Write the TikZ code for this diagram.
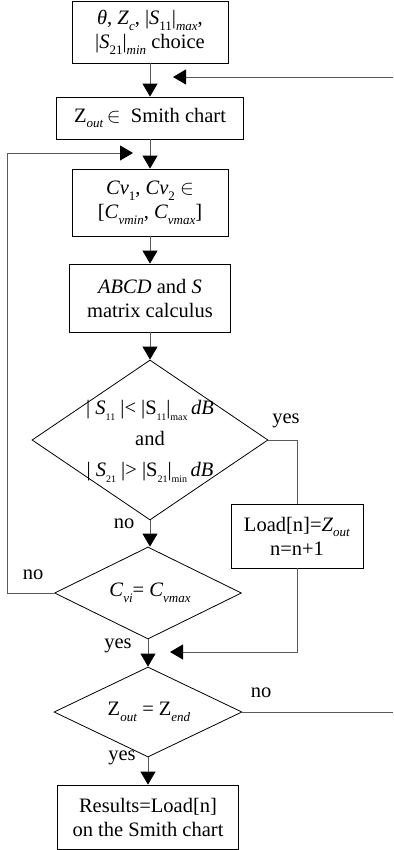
\documentclass[tikz,border=0pt]{standalone}
\usepackage{fontspec}
\setmainfont{Liberation Serif}
\usetikzlibrary{arrows.meta,shapes.geometric}
\newcommand{\lsub}[1]{\raisebox{-0.28em}{\fontsize{13}{13}\selectfont #1}}
\newcommand{\tsub}[1]{\raisebox{-0.3em}{\fontsize{10}{10}\selectfont #1}}
\begin{document}
\begin{tikzpicture}[x=1pt,y=-1pt,
  every node/.style={font=\fontsize{20.5}{24}\selectfont},
  boxnode/.style={draw=black,line width=0.8pt,inner sep=0pt,align=center},
  dnode/.style={draw=black,line width=0.8pt,diamond,inner sep=0pt},
  lbl/.style={inner sep=0pt},
  conn/.style={draw=black!65,line width=0.9pt},
  arr/.style={conn,-{Triangle[width=15pt,length=13pt,black]}}]
\useasboundingbox (0,0) rectangle (393,850);
% boxes
\node[boxnode,minimum width=156,minimum height=62] (b1) at (150,32)
  {\textit{θ}, \textit{Z}\lsub{\textit{c}}, |\textit{S}\lsub{11}|\lsub{\textit{max}},\\
   |\textit{S}\lsub{21}|\lsub{\textit{min}} choice};
\node[boxnode,minimum width=187,minimum height=42] (b2) at (150,118)
  {Z\lsub{\textit{out}}\,$\in$\ \ Smith chart};
\node[boxnode,minimum width=156,minimum height=67] (b3) at (150,202.5)
  {\textit{Cv}\lsub{1}, \textit{Cv}\lsub{2} $\in$\\{}[\textit{C}\lsub{\textit{vmin}}, \textit{C}\lsub{\textit{vmax}}]};
\node[boxnode,minimum width=161,minimum height=68] (b4) at (150,298)
  {\textit{ABCD} and \textit{S}\\ matrix calculus};
\node[dnode,minimum width=236,minimum height=160] (d1) at (150,440) {};
\node[lbl,align=center,font=\fontsize{20.5}{31}\selectfont] (t1) at (150,441)
  {| \textit{S}\tsub{11} |< |S\tsub{11}|\tsub{max}\,\textit{dB}\\ and\\
   | \textit{S}\tsub{21} |> |S\tsub{21}|\tsub{min}\,\textit{dB}};
\node[boxnode,minimum width=132,minimum height=64] (ld) at (297,536)
  {Load[n]=\textit{Z}\lsub{\textit{out}}\\ n=n+1};
\node[dnode,minimum width=187,minimum height=92] (d2) at (148,593) {};
\node[lbl] (t2) at (150,593) {\textit{C}\lsub{\textit{vi}}= \textit{C}\lsub{\textit{vmax}}};
\node[dnode,minimum width=188,minimum height=90] (d3) at (148,712) {};
\node[lbl] (t3) at (149,712) {Z\lsub{\textit{out}} = Z\lsub{\textit{end}}};
\node[boxnode,minimum width=181,minimum height=64] (res) at (148,817)
  {Results=Load[n]\\ on the Smith chart};
% labels
\node[lbl] (y1) at (286,421) {yes};
\node[lbl] (n1) at (124,524) {no};
\node[lbl] (n2) at (33,575) {no};
\node[lbl] (y2) at (118,646) {yes};
\node[lbl] (n3) at (261,693) {no};
\node[lbl] (y3) at (122,758) {yes};
% free-end coordinates
\coordinate (inR) at (393,77);
\coordinate (inT) at (173,77);
\coordinate (lpA) at (7,593);
\coordinate (lpB) at (7,153);
\coordinate (lpT) at (133,153);
\coordinate (ldB) at (298,652);
\coordinate (ldT) at (170,652);
\coordinate (outR) at (393,712);
% connectors
\draw[arr] (b1.south) -- (b2.north);
\draw[arr] (inR) -- (inT);
\draw[arr] (b2.south) -- (b3.north);
\draw[arr] (d2.west) -- (lpA) -- (lpB) -- (lpT);
\draw[arr] (b3.south) -- (b4.north);
\draw[arr] (b4.south) -- (d1.north);
\draw[arr] (d1.south) -- (d1.south |- d2.north);
\draw[conn] (d1.east) -| (ld.north);
\draw[arr] (ld.south) |- (ldT);
\draw[arr] (d2.south) -- (d3.north);
\draw[conn] (d3.east) -- (outR);
\draw[arr] (d3.south) -- (res.north);
\end{tikzpicture}
\end{document}
